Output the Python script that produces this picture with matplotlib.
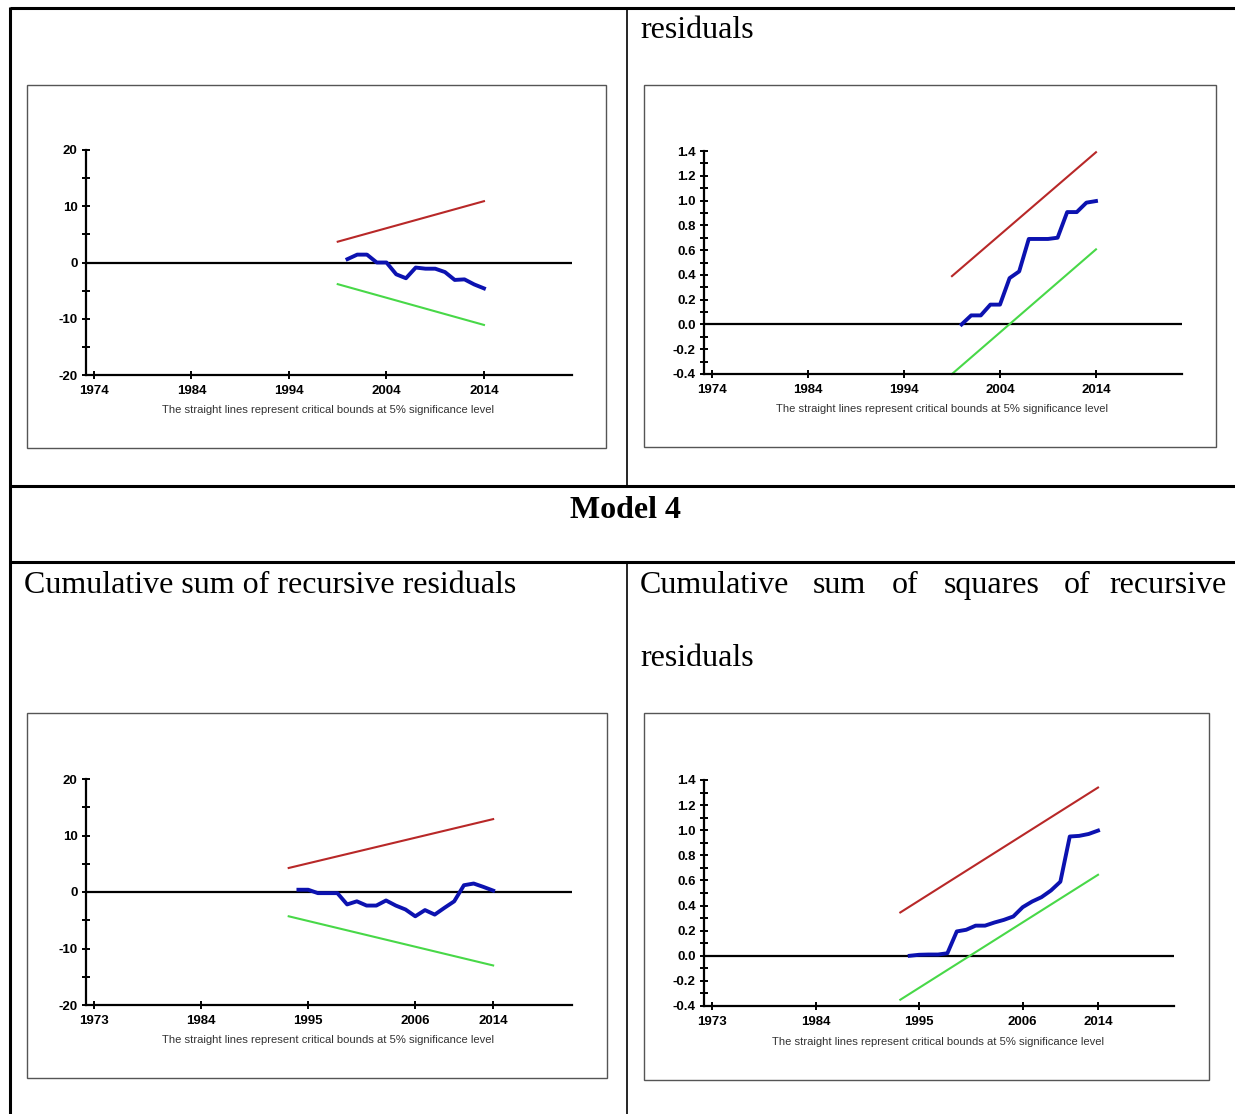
import matplotlib
matplotlib.use("Agg")
import matplotlib.pyplot as plt
from matplotlib.lines import Line2D
from matplotlib.patches import Rectangle

# ---------------- data ----------------
# Top-left: CUSUM (Model 3)
years_a = list(range(2000, 2015))
cusum_a = [0.6, 1.4, 1.4, 0.0, 0.0, -2.1, -2.8, -0.9, -1.1, -1.1, -1.7, -3.1, -3.0, -3.9, -4.6]
bound_years_a = [1999, 2014]
upper_a = [3.7, 10.9]
lower_a = [-3.85, -11.1]

# Top-right: CUSUMSQ (Model 3)
cusumsq_a = [0.0, 0.073, 0.073, 0.16, 0.16, 0.374, 0.428, 0.69, 0.69, 0.69, 0.70, 0.907, 0.907, 0.983, 0.996]
upper_sq_a = [0.39, 1.39]
lower_sq_a = [-0.40, 0.606]

# Bottom-left: CUSUM (Model 4)
years_b = list(range(1994, 2015))
cusum_b = [0.4, 0.4, -0.2, -0.2, -0.2, -2.2, -1.65, -2.4, -2.4, -1.5, -2.4, -3.1, -4.3, -3.2,
           -4.0, -2.8, -1.65, 1.2, 1.5, 0.9, 0.25]
bound_years_b = [1993, 2014]
upper_b = [4.25, 12.9]
lower_b = [-4.3, -13.0]

# Bottom-right: CUSUMSQ (Model 4)
cusumsq_b = [0.0, 0.008, 0.01, 0.01, 0.02, 0.194, 0.207, 0.24, 0.24, 0.265, 0.286, 0.313, 0.387,
             0.432, 0.467, 0.52, 0.59, 0.95, 0.955, 0.97, 0.997]
upper_sq_b = [0.345, 1.34]
lower_sq_b = [-0.35, 0.645]

xticks_a = [1974, 1984, 1994, 2004, 2014]
xticks_b = [1973, 1984, 1995, 2006, 2014]
yticks_cusum = [-20, -10, 0, 10, 20]
yticks_sq = [-0.4, -0.2, 0.0, 0.2, 0.4, 0.6, 0.8, 1.0, 1.2, 1.4]

caption = "The straight lines represent critical bounds at 5% significance level"

# ---------------- layout helpers ----------------
W, H = 1235, 1114
fig = plt.figure(figsize=(W / 100, H / 100), dpi=100)
fig.patch.set_facecolor("white")


def fx(x):
    return x / W


def fy(y):
    return 1 - y / H


def hline(y, x0, x1, lw=2.0, color="black"):
    fig.add_artist(Line2D([fx(x0), fx(x1)], [fy(y), fy(y)], transform=fig.transFigure,
                          color=color, lw=lw, solid_capstyle="butt"))


def vline(x, y0, y1, lw=2.0, color="black"):
    fig.add_artist(Line2D([fx(x), fx(x)], [fy(y0), fy(y1)], transform=fig.transFigure,
                          color=color, lw=lw, solid_capstyle="butt"))


def box(x0, y0, x1, y1):
    fig.add_artist(Rectangle((fx(x0), fy(y1)), fx(x1) - fx(x0), fy(y0) - fy(y1),
                             transform=fig.transFigure, fill=False, edgecolor="#555555", lw=1.0))


# table grid
hline(8, 10, W, lw=2.2)
hline(486, 10, W, lw=2.2)
hline(562, 10, W, lw=2.2)
vline(10, 7, H, lw=2.2)
vline(627, 8, 486, lw=1.2)
vline(627, 562, H, lw=1.2)

serif = ["Liberation Serif", "DejaVu Serif"]
tsize = 23
fig.text(fx(640), fy(38), "residuals", family=serif, fontsize=tsize, ha="left", va="baseline")
fig.text(fx(626), fy(518), "Model 4", family=serif, fontsize=tsize, fontweight="bold",
         ha="center", va="baseline")
fig.text(fx(24), fy(593), "Cumulative sum of recursive residuals", family=serif, fontsize=tsize,
         ha="left", va="baseline")
words = [("Cumulative", 640, "left"), ("sum", 813, "left"), ("of", 892, "left"),
         ("squares", 944, "left"), ("of", 1064, "left"), ("recursive", 1227, "right")]
for w, x, ha in words:
    fig.text(fx(x), fy(593), w, family=serif, fontsize=tsize, ha=ha, va="baseline")
fig.text(fx(640), fy(666), "residuals", family=serif, fontsize=tsize, ha="left", va="baseline")

# chart boxes
box(27, 85, 606, 448)
box(644, 85, 1216, 447)
box(27, 713, 607, 1078)
box(644, 713, 1209, 1080)

tickfont = ["Liberation Sans Narrow", "Liberation Sans", "DejaVu Sans"]
capfont = ["Liberation Sans", "DejaVu Sans"]
RED = "#b82828"
GREEN = "#48d848"
BLUE = "#0c12b0"


def make_axes(xa, xb, ytop, ybot, xlim, ylim, xticks, yticks, yminor, yfmt):
    ax = fig.add_axes([fx(xa), fy(ybot), fx(xb) - fx(xa), fy(ytop) - fy(ybot)])
    ax.set_xlim(*xlim)
    ax.set_ylim(*ylim)
    for s in ("top", "right"):
        ax.spines[s].set_visible(False)
    for s in ("left", "bottom"):
        ax.spines[s].set_linewidth(1.6)
        ax.spines[s].set_color("black")
    ax.set_xticks(xticks)
    ax.set_xticklabels([str(t) for t in xticks])
    ax.set_yticks(yticks)
    ax.set_yticklabels([yfmt(t) for t in yticks])
    ax.set_yticks(yminor, minor=True)
    ax.tick_params(axis="both", which="both", direction="inout", length=6, width=1.4,
                   colors="black")
    ax.tick_params(axis="x", pad=4)
    ax.tick_params(axis="y", pad=3)
    for lab in ax.get_xticklabels() + ax.get_yticklabels():
        lab.set_family(tickfont)
        lab.set_fontweight("bold")
        lab.set_fontsize(9.5)
    ax.axhline(0, color="black", lw=1.6, zorder=1)
    ax.patch.set_alpha(0)
    return ax


def draw(ax, by, up, lo, yrs, vals):
    ax.plot(by, up, color=RED, lw=1.5, clip_on=False, zorder=2)
    ax.plot(by, lo, color=GREEN, lw=1.5, clip_on=False, zorder=2)
    ax.plot(yrs, vals, color=BLUE, lw=2.8, clip_on=False, zorder=3, solid_joinstyle="round")


cus_fmt = lambda t: str(int(t))
sq_fmt = lambda t: f"{t:.1f}"
capsize = 8.1

# top-left
ax1 = make_axes(86, 572, 150, 375, (1973.18, 2023.03), (-20, 20), xticks_a, yticks_cusum,
                [-15, -5, 5, 15], cus_fmt)
draw(ax1, bound_years_a, upper_a, lower_a, years_a, cusum_a)
fig.text(fx(328), fy(410), caption, fontsize=capsize, color="#333333", ha="center", va="center",
         family=capfont)

# top-right
ax2 = make_axes(704, 1182, 151, 374, (1973.17, 2022.96), (-0.4, 1.4), xticks_a, yticks_sq,
                [-0.3, -0.1, 0.1, 0.3, 0.5, 0.7, 0.9, 1.1, 1.3], sq_fmt)
draw(ax2, bound_years_a, upper_sq_a, lower_sq_a, years_a, cusumsq_a)
fig.text(fx(942), fy(409), caption, fontsize=capsize, color="#333333", ha="center", va="center",
         family=capfont)

# bottom-left
ax3 = make_axes(86, 572, 779, 1005, (1972.18, 2022.1), (-20, 20), xticks_b, yticks_cusum,
                [-15, -5, 5, 15], cus_fmt)
draw(ax3, bound_years_b, upper_b, lower_b, years_b, cusum_b)
fig.text(fx(328), fy(1040), caption, fontsize=capsize, color="#333333", ha="center", va="center",
         family=capfont)

# bottom-right
ax4 = make_axes(704, 1174, 780, 1006, (1972.15, 2022.07), (-0.4, 1.4), xticks_b, yticks_sq,
                [-0.3, -0.1, 0.1, 0.3, 0.5, 0.7, 0.9, 1.1, 1.3], sq_fmt)
draw(ax4, bound_years_b, upper_sq_b, lower_sq_b, years_b, cusumsq_b)
fig.text(fx(938), fy(1042), caption, fontsize=capsize, color="#333333", ha="center", va="center",
         family=capfont)

fig.savefig("out.png", dpi=100, facecolor="white")
